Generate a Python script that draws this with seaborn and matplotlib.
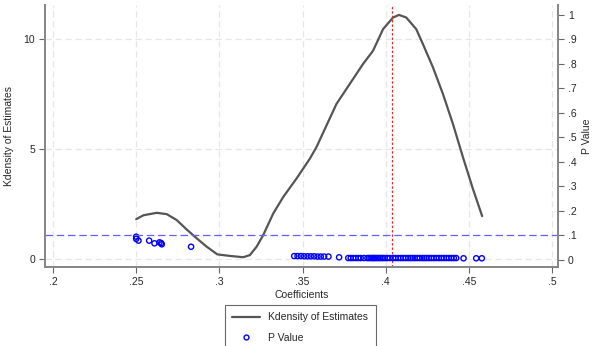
import matplotlib
matplotlib.use("Agg")
import matplotlib.pyplot as plt
import seaborn as sns
import pandas as pd
from matplotlib.lines import Line2D
from matplotlib.ticker import FuncFormatter

# kernel density of the estimates
kd_x = [0.250, 0.2544, 0.2624, 0.2684, 0.2744, 0.2804, 0.2864, 0.2924, 0.2988,
        0.3064, 0.3144, 0.3184, 0.3224, 0.3264, 0.3324, 0.3384, 0.3464, 0.3544,
        0.3584, 0.3644, 0.3704, 0.3784, 0.3864, 0.3924, 0.3984, 0.4044, 0.408,
        0.4124, 0.4184, 0.4224, 0.4284, 0.4344, 0.4404, 0.4464, 0.4524, 0.458]
kd_y = [1.81, 1.99, 2.10, 2.04, 1.77, 1.34, 0.94, 0.56, 0.21,
        0.14, 0.08, 0.18, 0.56, 1.09, 2.07, 2.82, 3.66, 4.56,
        5.09, 6.07, 7.05, 7.96, 8.87, 9.47, 10.45, 10.98, 11.10,
        10.98, 10.45, 9.77, 8.72, 7.51, 6.15, 4.64, 3.20, 1.95]

# coefficient / p value pairs
coef = [0.250, 0.250, 0.2514, 0.2578, 0.261, 0.264, 0.265, 0.2654, 0.283,
        0.345, 0.347, 0.349, 0.351, 0.353, 0.355, 0.357, 0.359, 0.361, 0.363,
        0.3656, 0.372,
        0.3775, 0.379, 0.3805, 0.382, 0.3835, 0.385, 0.387, 0.389, 0.390, 0.391,
        0.392, 0.3928, 0.3935, 0.3945, 0.3955, 0.3965, 0.3975, 0.3985, 0.3995, 0.401,
        0.4025, 0.4045, 0.406, 0.4075, 0.409, 0.4105, 0.412, 0.4135, 0.415, 0.4162,
        0.4175, 0.419, 0.4205, 0.422, 0.4232, 0.4245, 0.426, 0.4275, 0.429, 0.4305,
        0.432, 0.4335, 0.435, 0.4365, 0.438, 0.4395, 0.441, 0.4424, 0.4468, 0.4544,
        0.4578]
pval = [0.095, 0.086, 0.079, 0.079, 0.068, 0.072, 0.069, 0.064, 0.054,
        0.016, 0.016, 0.016, 0.015, 0.015, 0.015, 0.015, 0.014, 0.014, 0.014,
        0.014, 0.011] + [0.008] * 48 + [0.007, 0.007, 0.007]

p_cut = 0.1
mean_coef = 0.4036

x_ticks = [0.2, 0.25, 0.3, 0.35, 0.4, 0.45, 0.5]
left_ticks = [0, 5, 10]
right_ticks = [0, 0.1, 0.2, 0.3, 0.4, 0.5, 0.6, 0.7, 0.8, 0.9, 1]

kd = pd.DataFrame({"x": kd_x, "y": kd_y})
pts = pd.DataFrame({"coef": coef, "p": pval})

sns.set_style("white")
plt.rcParams["font.family"] = ["Liberation Sans", "DejaVu Sans"]
plt.rcParams["font.size"] = 7.5


def fmt(v, pos=None):
    s = f"{v:g}"
    if s.startswith("0."):
        s = s[1:]
    return s


fig = plt.figure(figsize=(5.93, 3.46), dpi=100)
ax = fig.add_axes([0.0759, 0.2283, 0.8651, 0.7572])
ax2 = ax.twinx()

sns.lineplot(data=kd, x="x", y="y", ax=ax, color="#555555", linewidth=1.6, sort=False,
             solid_joinstyle="round")
sns.scatterplot(data=pts, x="coef", y="p", ax=ax2, marker="o", s=14,
                facecolors="none", edgecolor="#0000ff", linewidth=1.0)
ax2.axhline(p_cut, color="#6060ff", linestyle=(0, (6, 3)), linewidth=0.9)
ax.axvline(mean_coef, color="#e03030", linestyle=(0, (2, 1.5)), linewidth=0.9)

ax.set_xlim(0.1952, 0.5036)
ax.set_ylim(-0.364, 11.55)
ax2.set_ylim(-0.0286, 1.04)

ax.set_xticks(x_ticks)
ax.set_yticks(left_ticks)
ax2.set_yticks(right_ticks)
ax.xaxis.set_major_formatter(FuncFormatter(fmt))
ax2.yaxis.set_major_formatter(FuncFormatter(fmt))

ax.grid(True, color="#e6e6e6", linestyle=(0, (5, 3)), linewidth=0.9)
ax.set_axisbelow(True)
for a in (ax, ax2):
    a.tick_params(direction="out", length=4, width=0.8, color="#666666", labelsize=7.5, pad=3)
    a.spines["top"].set_visible(False)
    for side in ("left", "right", "bottom"):
        a.spines[side].set_color("#888888")
        a.spines[side].set_linewidth(1.4)
ax.tick_params(axis="both", which="both", left=True, bottom=True)
ax2.tick_params(axis="y", right=True)

ax.set_xlabel("Coefficients", fontsize=7.5, labelpad=2)
ax.set_ylabel("Kdensity of Estimates", fontsize=7.5, labelpad=7)
ax2.set_ylabel("P Value", fontsize=7.5, labelpad=4)

handles = [Line2D([], [], color="#555555", linewidth=1.6),
           Line2D([], [], marker="o", linestyle="none", markersize=3.5,
                  markerfacecolor="none", markeredgecolor="#0000ff", markeredgewidth=1.0)]
leg = fig.legend(handles, ["Kdensity of Estimates", "P Value"], loc="upper center",
                 bbox_to_anchor=(0.506, 0.118), ncol=1, frameon=True, fancybox=False,
                 fontsize=7.5, handlelength=2.7, handletextpad=0.8, borderpad=0.7,
                 borderaxespad=0, labelspacing=1.0)
leg.get_frame().set_edgecolor("#444444")
leg.get_frame().set_linewidth(0.8)

fig.savefig("out.png", dpi=100)
